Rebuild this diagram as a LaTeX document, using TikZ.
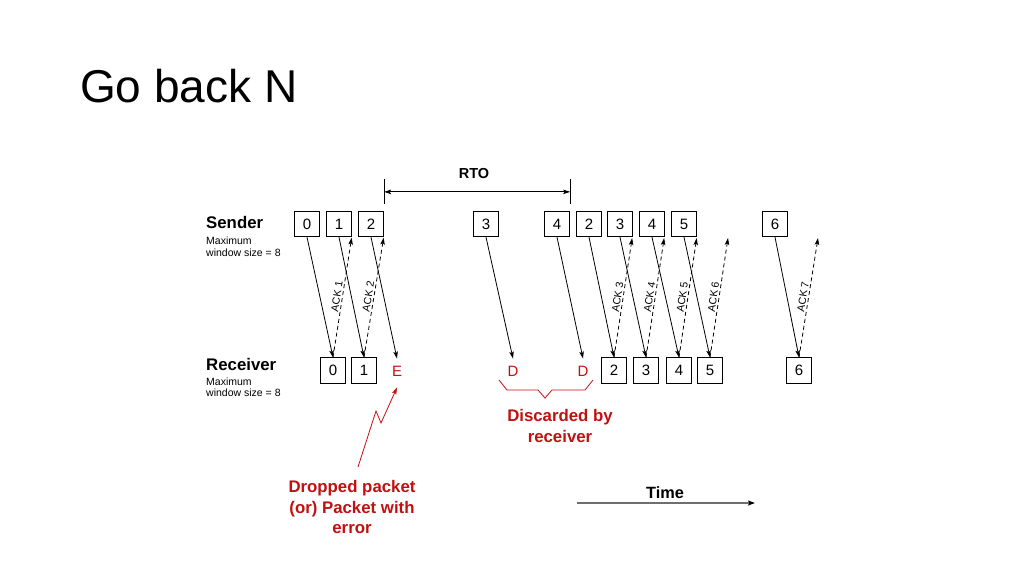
\documentclass[tikz,border=0pt]{standalone}
\usepackage{fontspec}
\setmainfont{Liberation Sans}
\usetikzlibrary{arrows.meta}
\definecolor{darkred}{RGB}{192,16,16}
\definecolor{timegray}{RGB}{110,110,110}
\tikzset{
  pkt/.style={draw=black, line width=0.8pt, minimum width=25.5pt, minimum height=25.5pt, inner sep=0pt, font=\fontsize{15}{18}\selectfont},
  marker/.style={minimum width=25.5pt, minimum height=25.5pt, inner sep=0pt, text=darkred, font=\fontsize{15}{18}\selectfont},
  data/.style={line width=0.8pt, -{Stealth[length=7pt,width=4.5pt,inset=1.5pt]}},
  ack/.style={line width=0.8pt, dash pattern=on 4pt off 3pt, -{Stealth[length=7pt,width=4.5pt,inset=1.5pt]}},
  acklbl/.style={midway, sloped, above, inner sep=1.5pt, font=\fontsize{10.5}{12}\selectfont},
  side/.style={anchor=base west, inner sep=0pt, font=\fontsize{16.8}{20}\selectfont\bfseries},
  small/.style={anchor=base west, inner sep=0pt, font=\fontsize{10.5}{13}\selectfont},
  redtxt/.style={text=darkred, align=center, inner sep=0pt, font=\fontsize{16.8}{20.5}\selectfont\bfseries},
}
\begin{document}
\begin{tikzpicture}[x=1pt,y=-1pt]
\useasboundingbox (0,0) rectangle (1024,576);

% title
\node[anchor=base west, inner sep=0pt, font=\fontsize{46}{52}\selectfont] (title) at (80,102) {Go back N};

% side labels
\node[side] (sender) at (206,228.3) {Sender};
\node[small] (sm1) at (206,244.3) {Maximum};
\node[small] (sm2) at (206,256.7) {window size = 8};
\node[side] (receiver) at (206,370.7) {Receiver};
\node[small] (rm1) at (206,385) {Maximum};
\node[small] (rm2) at (206,396.7) {window size = 8};

% sender boxes
\node[pkt] (s0) at (307,224) {0};
\node[pkt] (s1) at (339,224) {1};
\node[pkt] (s2) at (371,224) {2};
\node[pkt] (s3) at (486,224) {3};
\node[pkt] (s4) at (557,224) {4};
\node[pkt] (t2) at (589,224) {2};
\node[pkt] (t3) at (620,224) {3};
\node[pkt] (t4) at (652,224) {4};
\node[pkt] (t5) at (684,224) {5};
\node[pkt] (s6) at (775,224) {6};

% receiver boxes
\node[pkt] (r0) at (333,370.5) {0};
\node[pkt] (r1) at (364,370.5) {1};
\node[marker] (rE) at (397,371.5) {E};
\node[marker] (rD1) at (513,371.5) {D};
\node[marker] (rD2) at (583,371.5) {D};
\node[pkt] (r2) at (614,370.5) {2};
\node[pkt] (r3) at (646,370.5) {3};
\node[pkt] (r4) at (679,370.5) {4};
\node[pkt] (r5) at (710,370.5) {5};
\node[pkt] (r6) at (799,370.5) {6};

% RTO
\coordinate (rtoL) at ([yshift=32pt]s2.north east);
\coordinate (rtoR) at ([yshift=32pt]s4.north east);
\draw[line width=0.8pt] (rtoL) -- ++(0,25);
\draw[line width=0.8pt] (rtoR) -- ++(0,25);
\draw[line width=0.8pt, {Stealth[length=7pt,width=4.5pt,inset=1.5pt]}-{Stealth[length=7pt,width=4.5pt,inset=1.5pt]}] ([yshift=-13pt]rtoL) -- ([yshift=-13pt]rtoR);
\node[inner sep=0pt, font=\fontsize{14.5}{17}\selectfont\bfseries] (rto) at (474,174) {RTO};

% data packets
\draw[data] (s0.south) -- (r0.north);
\draw[data] (s1.south) -- (r1.north);
\draw[data] (s2.south) -- (rE.north);
\draw[data] (s3.south) -- (rD1.north);
\draw[data] (s4.south) -- (rD2.north);
\draw[data] (t2.south) -- (r2.north);
\draw[data] (t3.south) -- (r3.north);
\draw[data] (t4.south) -- (r4.north);
\draw[data] (t5.south) -- (r5.north);
\draw[data] (s6.south) -- (r6.north);

% acks
\coordinate (a6) at (728,238);
\coordinate (a7) at (818,238);
\draw[ack] (r0.north) -- ([xshift=-0.5pt,yshift=-0.5pt]s1.south east) node[acklbl] {ACK 1};
\draw[ack] (r1.north) -- ([xshift=-0.5pt,yshift=-0.5pt]s2.south east) node[acklbl] {ACK 2};
\draw[ack] (r2.north) -- ([xshift=-1pt,yshift=-1pt]t3.south east) node[acklbl] {ACK 3};
\draw[ack] (r3.north) -- ([xshift=-1pt,yshift=-1pt]t4.south east) node[acklbl] {ACK 4};
\draw[ack] (r4.north) -- ([xshift=-0.5pt,yshift=-1pt]t5.south east) node[acklbl] {ACK 5};
\draw[ack] (r5.north) -- (a6) node[acklbl] {ACK 6};
\draw[ack] (r6.north) -- (a7) node[acklbl] {ACK 7};

% brace
\draw[darkred, line width=0.8pt] (499,380) -- (507,390) -- (538,390) -- (545,398) -- (552,390) -- (585,390) -- (593,380);
\node[redtxt] (disc) at (560,426) {Discarded by\\receiver};

% dropped packet
\node[redtxt] (drop) at (352,507) {Dropped packet\\(or) Packet with\\error};
\coordinate (z0) at (358,467);
\draw[darkred, line width=0.8pt, -{Stealth[length=7pt,width=4.5pt,inset=1.5pt]}] (z0) -- (376,411) -- (381,423) -- ([yshift=-3pt]rE.south);

% time
\coordinate (tm0) at (577,503);
\coordinate (tm1) at (755,503);
\draw[timegray, line width=1.6pt, -{Stealth[length=7pt,width=5pt,inset=1.5pt,fill=black,color=black]}] (tm0) -- (tm1);
\node[inner sep=0pt, font=\fontsize{16.3}{19}\selectfont\bfseries] (time) at (665,493) {Time};
\end{tikzpicture}
\end{document}
